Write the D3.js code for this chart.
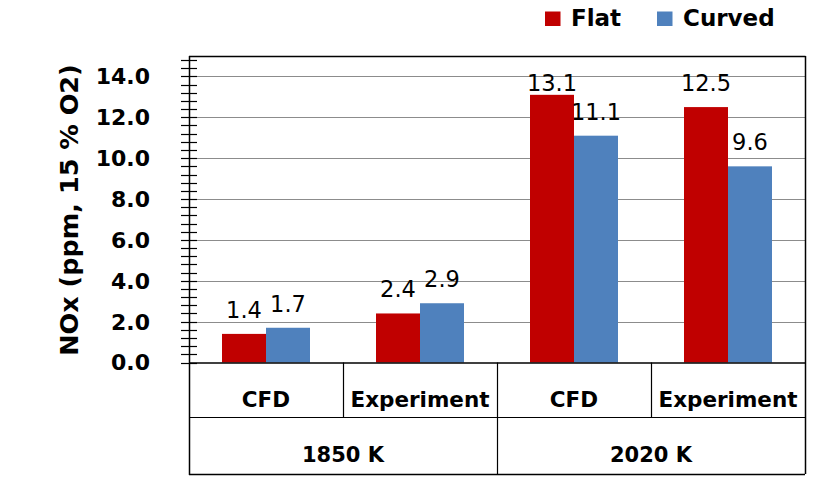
<!DOCTYPE html>
<html><head><meta charset="utf-8">
<script src="https://cdn.jsdelivr.net/npm/d3@7"></script>
<style>body{margin:0;background:#fff}svg{display:block}</style>
</head><body>
<svg id="c" width="829" height="487"></svg>
<script>
const categories = ["CFD", "Experiment", "CFD", "Experiment"];
const groups = ["1850 K", "2020 K"];
const seriesNames = ["Flat", "Curved"];
const flat = [1.4, 2.4, 13.1, 12.5];
const curved = [1.7, 2.9, 11.1, 9.6];
const yTicks = [0, 2, 4, 6, 8, 10, 12, 14];
const colors = ["#C00000", "#4F81BD"];

const svg = d3.select("#c");
const L = 189, R = 805, T = 56, B = 362.5, B1 = 417, B2 = 474;
const font = "'DejaVu Sans', Verdana, sans-serif";

const y = d3.scaleLinear().domain([0, 15]).range([B, T]);
const x0 = d3.scaleBand().domain(d3.range(categories.length)).range([L, R]).padding(0);
const x1 = d3.scaleBand().domain(seriesNames).range([0, x0.bandwidth()]).paddingInner(0).paddingOuter(0.75);
const xg = d3.scaleBand().domain(groups).range([L, R]).padding(0);

// gridlines
svg.append("g").selectAll("line").data(yTicks.filter(d => d > 0)).join("line")
  .attr("x1", L).attr("x2", R).attr("y1", d => Math.round(y(d)) + 0.5).attr("y2", d => Math.round(y(d)) + 0.5)
  .attr("stroke", "#8c8c8c").attr("stroke-width", 1);

// bars
const rows = categories.map((c, i) => ({i, vals: [flat[i], curved[i]]}));
const gBars = svg.append("g");
rows.forEach(r => {
  r.vals.forEach((v, k) => {
    gBars.append("rect")
      .attr("x", x0(r.i) + x1(seriesNames[k]))
      .attr("y", y(v))
      .attr("width", x1.bandwidth())
      .attr("height", B - y(v))
      .attr("fill", colors[k]);
  });
});
// labels
rows.forEach(r => {
  r.vals.forEach((v, k) => {
    const by = Math.max(y(v) - 16, T + 35);
    svg.append("text")
      .attr("x", x0(r.i) + x1(seriesNames[k]) + x1.bandwidth() / 2)
      .attr("y", by)
      .attr("text-anchor", "middle")
      .attr("font-family", font).attr("font-size", 22.5).attr("fill", "#000")
      .text(v.toFixed(1));
  });
});

// plot border top/right
svg.append("line").attr("x1", L).attr("x2", R + 0.5).attr("y1", T + 0.5).attr("y2", T + 0.5).attr("stroke", "#000").attr("stroke-width", 1.5);
svg.append("line").attr("x1", R + 0.5).attr("x2", R + 0.5).attr("y1", T).attr("y2", B2).attr("stroke", "#000").attr("stroke-width", 1.5);

// y axis with minor ticks
const minor = d3.range(0, 15, 0.4).map(d => +d.toFixed(1));
svg.append("g").selectAll("line").data(minor).join("line")
  .attr("x1", L - 8).attr("x2", L + 8)
  .attr("y1", d => Math.round(y(d)) + 0.5).attr("y2", d => Math.round(y(d)) + 0.5)
  .attr("stroke", "#000").attr("stroke-width", 1.2);
svg.append("line").attr("x1", L + 0.5).attr("x2", L + 0.5).attr("y1", T).attr("y2", B2 + 1).attr("stroke", "#000").attr("stroke-width", 1.5);
// y tick labels
svg.append("g").selectAll("text").data(yTicks).join("text")
  .attr("x", 150).attr("y", d => y(d)).attr("dy", "0.36em")
  .attr("text-anchor", "end").attr("font-family", font).attr("font-weight", "bold").attr("font-size", 22)
  .text(d => d.toFixed(1));

// category table
svg.append("line").attr("x1", L).attr("x2", R).attr("y1", B + 0.5).attr("y2", B + 0.5).attr("stroke", "#000").attr("stroke-width", 1.5);
svg.append("line").attr("x1", L).attr("x2", R).attr("y1", B1 + 0.5).attr("y2", B1 + 0.5).attr("stroke", "#000").attr("stroke-width", 1.2);
svg.append("line").attr("x1", L).attr("x2", R).attr("y1", B2 + 0.5).attr("y2", B2 + 0.5).attr("stroke", "#000").attr("stroke-width", 1.5);
categories.forEach((c, i) => {
  if (i > 0) {
    const full = (i % 2 === 0);
    svg.append("line").attr("x1", Math.round(x0(i)) + 0.5).attr("x2", Math.round(x0(i)) + 0.5)
      .attr("y1", B).attr("y2", full ? B2 : B1 + 1).attr("stroke", "#000").attr("stroke-width", 1.2);
  }
  svg.append("text").attr("x", x0(i) + x0.bandwidth() / 2).attr("y", 407)
    .attr("text-anchor", "middle").attr("font-family", font).attr("font-weight", "bold").attr("font-size", 21.5)
    .text(c);
});
groups.forEach(g => {
  svg.append("text").attr("x", xg(g) + xg.bandwidth() / 2).attr("y", 462)
    .attr("text-anchor", "middle").attr("font-family", font).attr("font-weight", "bold").attr("font-size", 21)
    .text(g);
});

// y title
svg.append("text").attr("transform", "translate(78,210) rotate(-90)")
  .attr("text-anchor", "middle").attr("font-family", font).attr("font-weight", "bold").attr("font-size", 25.5)
  .text("NOx (ppm, 15 % O2)");

// legend
const legX = [545, 657];
seriesNames.forEach((s, k) => {
  svg.append("rect").attr("x", legX[k]).attr("y", 11.5).attr("width", 15.5).attr("height", 14.5).attr("fill", colors[k]);
  svg.append("text").attr("x", legX[k] + 26).attr("y", 26).attr("font-family", font).attr("font-weight", "bold").attr("font-size", 23)
    .text(s);
});
</script>
</body></html>
